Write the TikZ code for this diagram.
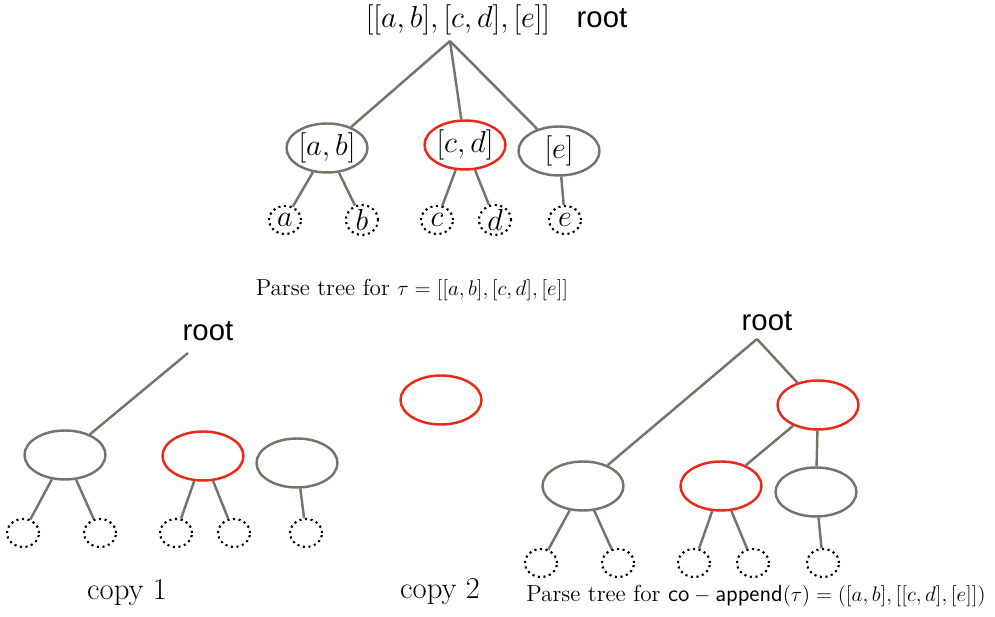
\documentclass[tikz,border=0pt]{standalone}
\usepackage{fontspec}
\newfontfamily\rootfont{Liberation Sans}
\usetikzlibrary{shapes.geometric, positioning}
\definecolor{edgegray}{RGB}{119,115,104}
\definecolor{hotred}{RGB}{236,40,24}

\begin{document}
\begin{tikzpicture}[x=0.02cm, y=-0.02cm,
    inner/.style={ellipse, draw=edgegray, line width=1.4pt, minimum width=1.62cm,
      minimum height=0.98cm, inner sep=0pt, font=\fontsize{17}{19}\selectfont},
    picked/.style={inner, draw=hotred},
    leaf/.style={ellipse, draw=black, dotted, line width=1.2pt, minimum width=0.64cm,
      minimum height=0.56cm, inner sep=0pt, font=\fontsize{17}{19}\selectfont},
    link/.style={draw=edgegray, line width=1.4pt},
    tag/.style={font=\rootfont\fontsize{16.7}{19}\selectfont},
    caption/.style={font=\fontsize{13.2}{15}\selectfont}]
    \useasboundingbox (0,0) rectangle (995,617);

    % parse tree of tau
    \node [font=\fontsize{16}{18}\selectfont] (toptext) at (458,20) {$[[a,b],[c,d],[e]]$};
    \node [tag] (toptag) at (602,18) {root};
    \coordinate (topapex) at (450,41);
    \node [inner] (ab) at (327,148) {$[a,b]$};
    \node [picked] (cd) at (465,145) {$[c,d]$};
    \node [inner] (e) at (559,151) {$[e]$};
    \node [leaf] (la) at (285,220) {$a$};
    \node [leaf] (lb) at (362,220) {$b$};
    \node [leaf] (lc) at (437,220) {$c$};
    \node [leaf] (ld) at (495,220) {$d$};
    \node [leaf] (le) at (565,220) {$e$};
    \foreach \kid in {ab,cd,e}
      \draw [link] (topapex) -- (\kid);
    \draw [link] (ab) -- (la) (ab) -- (lb) (cd) -- (lc) (cd) -- (ld) (e) -- (le);
    \node [caption] (topcap) at (412,290) {Parse tree for $\tau = [[a,b],[c,d],[e]]$};

    % copy 1
    \node [tag] (c1tag) at (208,331) {root};
    \coordinate (c1apex) at (188,353);
    \node [inner] (c1ab) at (65,455) {};
    \node [picked] (c1cd) at (203,456) {};
    \node [inner] (c1e) at (297,463) {};
    \foreach \name/\x in {1/23,2/100,3/176,4/234,5/306}
      \node [leaf] (c1l\name) at (\x,533) {};
    \draw [link] (c1apex) -- (c1ab);
    \draw [link] (c1ab) -- (c1l1) (c1ab) -- (c1l2) (c1cd) -- (c1l3) (c1cd) -- (c1l4) (c1e) -- (c1l5);
    \node [font=\fontsize{17.5}{19}\selectfont] (c1cap) at (127,593) {copy $1$};

    % copy 2
    \node [picked] (c2cd) at (441,400) {};
    \node [font=\fontsize{17.5}{19}\selectfont] (c2cap) at (440,592) {copy $2$};

    % parse tree of co-append
    \node [tag] (rtag) at (767,321) {root};
    \coordinate (rapex) at (757,339);
    \node [picked] (rtop) at (818,405) {};
    \node [inner] (rab) at (583,486) {};
    \node [picked] (rcd) at (721,486) {};
    \node [inner] (re) at (816,492) {};
    \foreach \name/\x in {1/541,2/618,3/694,4/753,5/823}
      \node [leaf] (rl\name) at (\x,563) {};
    \draw [link] (rapex) -- (rab) (rapex) -- (rtop);
    \draw [link] (rtop) -- (rcd) (rtop) -- (re);
    \draw [link] (rab) -- (rl1) (rab) -- (rl2) (rcd) -- (rl3) (rcd) -- (rl4) (re) -- (rl5);
    \node [caption] (rcap) at (756,596)
      {Parse tree for $\mathsf{co}-\mathsf{append}(\tau) = ([a,b],[[c,d],[e]])$};
  \end{tikzpicture}
\end{document}
